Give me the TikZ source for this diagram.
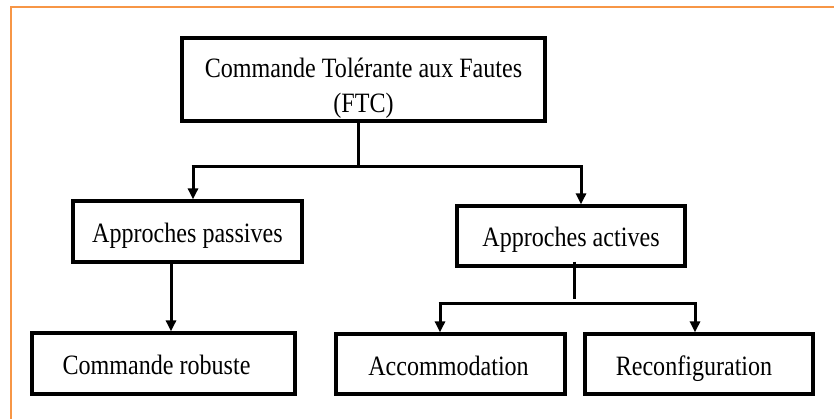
\documentclass[tikz,border=0pt]{standalone}
\usepackage{fontspec}
\setmainfont{Liberation Serif}[FakeStretch=0.86]
\usetikzlibrary{arrows.meta}
\definecolor{frameorange}{HTML}{F79646}
\begin{document}
\begin{tikzpicture}[x=1pt,y=-1pt,
  box/.style={draw=black, line width=3.2pt, inner sep=0pt, align=center,
    font=\fontsize{28}{35}\selectfont},
  onebox/.style={box, text height=28pt, text depth=6pt},
  link/.style={line width=3pt},
  arrowlink/.style={link, -{Triangle[width=10pt,length=11pt]}}]
\useasboundingbox (0,0) rectangle (834,419);
\fill[white] (0,0) rectangle (834,419);
\clip (0,0) rectangle (834,419);
% outer frame
\draw[frameorange, line width=2.5pt] (11,440) -- (11,7) -- (850,7);

% boxes
\node[box, minimum width=363pt, minimum height=83pt] (ftc) at (363.5,79.5)
  {\rule{0pt}{38pt}Commande Tolérante aux Fautes\\(FTC)\rule[-6pt]{0pt}{6pt}};
\node[onebox, minimum width=229pt, minimum height=61pt] (passive) at (187.5,231.5) {Approches passives};
\node[onebox, minimum width=228pt, minimum height=60pt] (active) at (571,236) {Approches actives};
\node[onebox, minimum width=263pt, minimum height=61pt] (robust) at (163.5,363.5) {Commande robuste\hspace{14pt}};
\node[onebox, minimum width=229pt, minimum height=60pt] (accom) at (450.5,364) {Accommodation\hspace{4pt}};
\node[onebox, minimum width=228pt, minimum height=60pt] (reconf) at (699,364) {Reconfiguration\hspace{10pt}};

% first level split
\coordinate (j1) at (358,167);
\coordinate (pin) at ([xshift=5.5pt]passive.north);
\coordinate (ain) at ([xshift=10pt]active.north);
\draw[link] (ftc.south -| j1) -- (j1);
\draw[link] ([xshift=-1.5pt]pin |- j1) -- ([xshift=1.5pt]ain |- j1);
\draw[arrowlink] (pin |- j1) -- (pin);
\draw[arrowlink] (ain |- j1) -- (ain);

% passive branch
\coordinate (pout) at (171,262);
\draw[arrowlink] (pout |- passive.south) -- (pout |- robust.north);

% active branch
\coordinate (j2) at (574,303);
\coordinate (cin) at ([xshift=-10.5pt]accom.north);
\coordinate (rin) at ([xshift=-4pt]reconf.north);
\draw[link] ([yshift=6pt]active.south -| j2) -- ([yshift=4pt]j2);
\draw[link] ([xshift=-1.5pt]cin |- j2) -- ([xshift=1.5pt]rin |- j2);
\draw[arrowlink] (cin |- j2) -- (cin);
\draw[arrowlink] (rin |- j2) -- (rin);
\end{tikzpicture}
\end{document}
